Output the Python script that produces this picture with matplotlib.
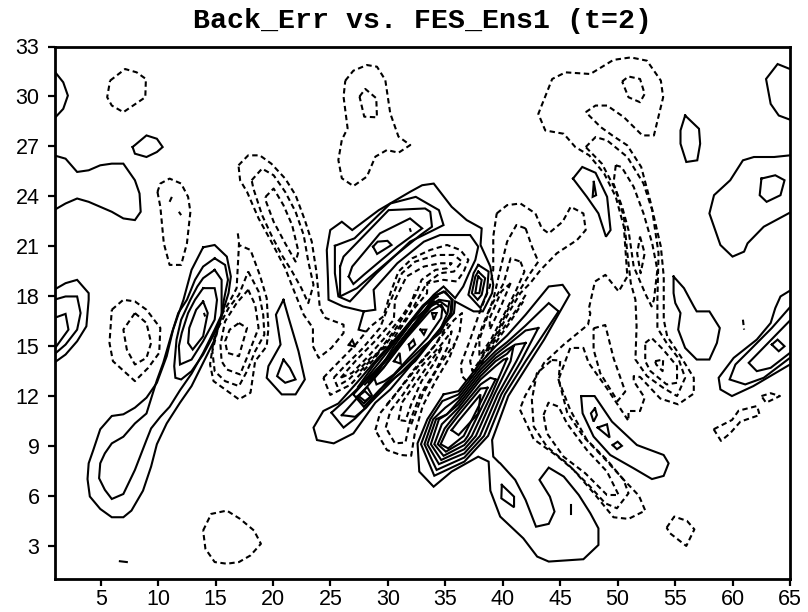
import matplotlib
matplotlib.use("Agg")
import matplotlib.pyplot as plt
import numpy as np

TITLE = "Back_Err vs. FES_Ens1 (t=2)"
X_TICKS = [5, 10, 15, 20, 25, 30, 35, 40, 45, 50, 55, 60, 65]
Y_TICKS = [3, 6, 9, 12, 15, 18, 21, 24, 27, 30, 33]

# ---- contour lines: (x, y) grid coordinates ----
# solid, left half
s_edge_top = [(1,31.5),(1.8,30.8),(2.2,30),(1.8,29.2),(1,28.6)]
s_small27 = [(7.8,26.9),(9,27.6),(9.9,27.4),(10.4,26.9),(9.9,26.6),(9,26.3),(8,26.5),(7.8,26.9)]
s_left_blob = [(1,26.4),(2,26.2),(3,25.4),(4,25.5),(5,25.8),(6,25.9),(7,25.9),(8,24.9),(8.4,24.1),(8.5,23),(8,22.5),(7,22.6),(6,23),(5,23.3),(4,23.6),(3,23.8),(2,23.5),(1,23.1)]
s_edge1 = [(1,18.3),(2,18.7),(3,18.9),(4,18.1),(4,17.7),(3.8,16.1),(3,15.2),(2,14.4),(1,13.9)]
s_edge2 = [(1,17.7),(2,17.9),(3,17.9),(3.3,16.9),(3,15.9),(2,15),(1,14.4)]
s_edge3 = [(1,16.6),(2,16.85),(2.25,15.9),(1,14.7)]
s_tiny7 = [(6.7,1.95),(7.3,1.9)]
s_arm_outer = [(13.9,20.86),(14.9,21),(15.95,20.3),(16.3,19.1),(16.1,18.1),(15.7,17.2),(14.9,15.3),(13.9,13.9),(12.9,12.5),(11.9,11.5),(10.75,10.25),(9.9,9),(9.4,7.65),(8.7,6.2),(7.7,5),(7,4.6),(6,4.6),(5,5.1),(4.1,5.85),(3.9,6.9),(4,7.85),(4.4,8.65),(5,9.9),(6,10.7),(7,10.8),(8,11.2),(9,11.8),(9.9,12.7),(10.75,14.3),(11.3,15.9),(12.2,17.7),(12.9,19.5),(13.9,20.86)]
s_arm_second = [(14.9,20.2),(15.8,19.8),(16.05,18.9),(15.7,17.7),(15.5,16.8),(14.9,15.9),(13.9,14.5),(12.9,13.25),(11.9,12.25),(11,11.25),(10.2,10.65),(9.4,9.95),(9,9.25),(8,7.45),(7,6),(6,5.7),(5.4,6.25),(4.9,6.95),(5,7.85),(5.4,8.45),(6,9.05),(7,9.45),(8,10.25),(9,10.85),(9.9,12.85),(10.45,13.9),(11.2,15.7),(11.75,16.9),(12.5,17.7),(13.2,18.9),(13.9,19.7),(14.9,20.2)]
s_arm_a = [(14.9,19.5),(15.5,18.9),(15.5,17.7),(15.5,16.7),(14.9,15.7),(13.9,14.4),(12.9,13.4),(12,12.9),(11.5,13),(11.4,13.7),(11.6,15.3),(12,16.5),(12.8,17.7),(13.4,18.5),(13.9,19),(14.9,19.5)]
s_arm_b = [(13.9,18.4),(14.9,18.4),(15.1,17.7),(14.9,16.5),(13.9,15.2),(12.9,14.1),(11.9,13.8),(11.8,14.9),(12.05,15.7),(12.6,16.9),(13.2,17.7),(13.9,18.4)]
s_arm_c = [(13.9,17.6),(14.3,16.9),(13.9,15.5),(13,14.7),(12.6,15.1),(12.7,16),(13.3,17.1),(13.9,17.6)]
s_dot_14 = [(14,16.85),(14.05,16.75)]
s_21_outer = [(20.85,17.7),(20.2,16.8),(20.6,15),(19.55,13.7),(19.4,13),(20.7,12),(21.9,12),(22.7,12.9),(22.15,14.6),(21.3,16.6),(20.85,17.7)]
s_21_inner = [(20.85,14.1),(20.3,13.1),(21,12.7),(21.9,12.9),(21.4,13.6),(20.85,14.1)]
s_tri_26 = [(26.5,14.98),(26.8,15.28),(27.06,14.87),(26.5,14.98)]

# solid, centre-top blob and centre ridge
s_main = [(27.9,15.8),(27.35,15.9),(27.8,17),(26,17.3),(24.75,17.7),(24.7,19),(24.6,20.7),(24.9,21.9),(25.9,22.4),(26.8,21.9),(29.1,23.1),(31.8,24.2),(32.85,24.6),(33.85,24.7),(35.4,23.3),(36.7,22.5),(38,22),(37.9,21),(38.75,19.7),(39,18.6),(38.9,18.1),(38.1,17),(37.3,17),(35.7,17.6),(35.6,16.9),(33.85,15.5),(31.8,13.7),(30.1,12.3),(28.8,11.5),(26.9,9.65),(25.2,9.05),(23.75,9.25),(23.45,10),(24.3,11),(25.6,11.45),(27.2,12.7),(28.9,14.1),(31,15.7),(32.7,17.1),(33.85,18),(34.7,18.5),(35.7,17.8),(36.4,18.5),(36.9,19.3),(37.45,20.1),(37.7,20.9),(37,21.6),(34.4,21.6),(33,21.2),(30.7,19.9),(28.65,18.3),(28.8,17.1),(27.8,17)]
s_e2 = [(25.3,20.95),(27,21.4),(30.1,23.5),(32.3,23.9),(34.3,23.1),(34.7,22.2),(33.55,21.8),(31.8,21.2),(28.9,19.3),(26.6,17.6),(25.6,17.9),(25.3,19.3),(25.3,20.95)]
s_e3 = [(25.75,19.7),(26.05,20.3),(29.95,23.1),(33.1,23.2),(33.55,23),(33.7,22.1),(32.7,21.6),(30.4,20.3),(27.2,18.4),(25.75,17.9),(25.75,19.7)]
s_e4 = [(26.5,19.1),(26.8,19.7),(29.2,21.7),(31.8,22.6),(32.85,22),(30.7,20.9),(27.8,19.2),(26.9,18.65),(26.5,19.1)]
s_e5 = [(28.6,20.9),(29,21.2),(29.85,21.25),(30.2,21),(28.95,20.46),(28.6,20.9)]
s_e_dot = [(31.8,21.95),(31.85,21.85)]
s_g1 = [(37.7,19.8),(38.6,19.4),(38.45,18.1),(37.9,17.2),(36.85,18),(37.3,19.3),(37.7,19.8)]
s_g2 = [(37.7,19.4),(38.3,19),(38,18),(37.65,17.7),(37.15,18.1),(37.45,19.1),(37.7,19.4)]
s_g3 = [(37.7,19.1),(38,18.9),(37.8,18.1),(37.45,18.1),(37.6,18.8),(37.7,19.1)]
s_r2 = [(25,10.9),(26.6,11.9),(28.65,13.3),(30.7,14.9),(32.7,16.7),(33.9,17.9),(34.7,18.2),(35.5,17.7),(35.4,16.9),(33.6,15.2),(32.25,14),(30.5,13),(28.8,11.8),(27.05,10.55),(26.05,10),(25,10.9)]
s_r3 = [(25.9,10.75),(27.5,12),(29.5,13.6),(31.5,15.5),(33.4,17.3),(34.1,18),(34.85,18.2),(35.4,17.7),(35.3,16.9),(34.4,15.7),(33,14.9),(31.5,13.9),(29.6,12.6),(28,11.2),(27.05,10.65),(25.9,10.75)]
s_r4 = [(26.9,12),(28.2,13),(30.4,14.5),(32.1,16),(33.85,17.5),(34.3,17.7),(35.2,17.6),(35.05,16.9),(34.4,15.9),(32.7,14.5),(31,13.3),(29.2,12.3),(27.8,11.25),(26.9,12)]
s_u1 = [(27.6,12.6),(29.1,13.9),(31.1,15.7),(33.1,17.4),(34.2,17.9)]
s_u2 = [(27.9,12.6),(29.3,13.7),(31.3,15.5),(33.3,17.2),(34.4,17.6),(35,17.3)]
s_u3 = [(28.2,12.7),(29.5,13.6),(31.5,15.4),(33.5,17),(34.5,17.4),(34.9,16.9)]
s_u4 = [(27.3,12.45),(28.7,13.8),(30.8,15.5),(32.9,17.35),(34,18)]
s_u5 = [(28.4,12.95),(29.8,14.1),(31.7,15.85),(33.6,17.5)]
s_r5 = [(28.7,13),(30.4,14.9),(32,16.4),(33.9,17.6),(34.6,17.2),(34.5,16.6),(33.3,15.4),(31.7,14.2),(30.4,13.2),(29.6,12.8),(28.9,12.6),(28.7,13)]
s_t1a = [(27.2,11.85),(28.1,12.45),(28.5,11.95),(27.8,11.45),(27.2,11.85)]
s_t1 = [(27.35,11.9),(27.9,12.2),(28.4,11.85),(27.9,11.6),(27.35,11.9)]
s_t2 = [(30.4,14),(31,13.85),(30.9,14.5),(30.4,14)]
s_t3 = [(31.7,15),(32.1,15.3),(32.25,15),(31.8,14.7),(31.7,15)]
s_t4 = [(32.7,15.9),(33.2,15.9),(33,15.6),(32.7,15.9)]
s_t5 = [(33.7,16.9),(34.1,16.9),(33.85,16.5),(33.7,16.9)]

# solid, lower ridge and bottom blob
s_l1 = [(34.7,12),(36,12.2),(37.9,13.9),(39.2,14.9),(40.2,15.55),(41.8,16.8),(43.8,18.5),(45,18.6),(45.6,18),(43.4,15.3),(42.2,14),(40.3,11.9),(38.9,9.25),(39,8.25),(39.5,7.9),(39.6,7.85),(40.9,6.85),(41.8,5.64),(42.7,4.03),(43.8,4.2),(44.3,4.94),(43.9,5.84),(43,6.85),(43.8,7.59),(45.1,7.05),(46.4,5.94),(47.4,4.84),(48.1,3.93),(48.1,2.93),(46.8,2.07),(43.8,1.93),(42.8,2.23),(41.6,3.33),(39.6,4.64),(38.75,6.2),(38.6,7.95),(37.7,8.25),(35.4,7.35),(33.84,6.44),(32.6,7.35),(32.45,9.05),(33.3,10.5),(34.7,12)]
s_l2 = [(44.65,17),(43.8,17.5),(41.8,16.15),(40.2,15.15),(39.2,14.6),(37.9,13.7),(36,12),(34.6,11.6),(33.55,10.5),(32.75,9),(33.9,7.1),(36.5,7.95),(38.55,9.5),(40,12),(41.8,14),(44.65,17)]
s_l3 = [(42.9,16),(41.8,15.85),(40.2,14.95),(39.2,14.4),(37.9,13.5),(36,11.8),(34.85,11.2),(33.8,10.5),(33.05,9),(34.1,7.45),(36.5,8.2),(38.2,9.5),(39.7,12),(41.4,14),(42.9,16)]
s_l4 = [(41.8,15.1),(40.9,15),(40.2,14.7),(39.2,14.2),(37.9,13.3),(36,11.6),(35,10.8),(34.05,10.5),(33.3,9),(34.3,7.8),(36.5,8.45),(37.85,9.5),(39.4,12),(41,14),(41.8,15.1)]
s_l5 = [(40.75,14.9),(40.2,14.45),(39.2,14),(37.9,13.1),(36,11.4),(34.9,10.75),(34.3,10.5),(33.6,9),(34.5,8.05),(36.5,8.7),(37.5,9.5),(39.1,12),(40.5,14),(40.75,14.9)]
s_l6 = [(40.2,14.15),(39.9,14.1),(39.2,13.7),(37.9,12.9),(36,11.2),(34.55,10.2),(33.9,9),(34.7,8.3),(36.5,8.95),(37.15,9.5),(38.85,12),(40.1,14),(40.2,14.15)]
s_l7 = [(39.2,12.9),(38.75,13),(37.9,12.6),(36,11),(34.8,9.95),(34.2,9),(34.9,8.55),(36.5,9.2),(36.8,9.5),(38.55,12),(39.2,12.9)]
s_l7b = [(38.5,12.4),(37.9,12.35),(36,10.75),(35.05,9.9),(34.45,9),(35.1,8.75),(36.45,9.5),(38.25,12),(38.5,12.4)]
s_l8 = [(35.4,9.85),(36,9.55),(37.7,10.85),(37.9,12),(36,10.4),(35.4,9.85)]
s_b_in = [(39.74,6.55),(40.8,5.84),(40.8,5.2),(39.7,5.74),(39.74,6.55)]
s_b_tick = [(45.75,5.34),(45.75,4.8)]

# solid, right half
s_t_48 = [(45.9,25),(46.7,25.7),(47.85,25.35),(48.85,23.9),(49.15,21.9),(48.75,21.5),(48.1,22.9),(47.1,23.9),(45.9,25)]
s_t_48i = [(47.7,24.8),(47.9,24),(47.6,23.9),(47.7,24.8)]
s_56 = [(55.6,28.8),(56.8,28),(56.9,27.1),(56.65,26.1),(55.7,26),(55.2,27.1),(55.2,27.9),(55.6,28.8)]
s_tr = [(64.67,31.6),(63.6,31.9),(62.6,31),(63,29.5),(63.7,28.8),(64.67,28.55)]
s_w = [(64.67,26.4),(63.3,26.3),(61.55,26.3),(60.6,26.1),(59.5,24.9),(58.1,24),(57.7,22.9),(58.65,21),(59.7,20.3),(60.7,20.6),(61,21.1),(62.4,22.1),(64.67,22.95)]
s_w_in = [(62.2,25),(63.4,25.2),(64.2,24.9),(63.85,24),(62.65,23.6),(62.05,24),(62.2,25)]
s_56b = [(54.6,19.1),(55.5,18.4),(56.35,17.3),(56.6,17),(57.7,17),(58.6,16),(58.35,15.1),(57.7,14.1),(56.6,14.1),(55.6,14.8),(55,15.9),(55.2,16.9),(54.75,17.5),(54.6,18.1),(54.6,19.1)]
s_y1 = [(64.67,18.25),(63.85,17.9),(63.4,17.2),(63,16.3),(61.8,15.3),(59.8,14.2),(58.5,13),(58.65,12.3),(59.65,11.9),(61.5,12.5),(64.67,13.8)]
s_y2 = [(64.67,17.25),(63.1,16),(61.25,14.7),(59.95,13.8),(59.45,12.9),(60.8,12.6),(62.4,13),(64.67,14.2)]
s_y3 = [(64.67,16.45),(61.1,13.9),(61.8,13.4),(63,13.6),(64.67,14.5)]
s_y_d = [(63.1,15),(63.6,15.3),(64.2,14.9),(63.7,14.6),(63.1,15)]
s_49 = [(46.6,11.9),(47.77,11.9),(49.27,10.36),(51.43,8.95),(53.74,8.35),(54.17,7.85),(53.74,7.09),(52.73,6.9),(51.14,7.55),(49.12,8.35),(47.68,9.46),(46.73,10.86),(46.6,11.9)]
s_49a = [(47.8,11.16),(47.97,10.76),(47.68,10.36),(47.45,10.86),(47.8,11.16)]
s_49b = [(48.03,10),(48.84,10.2),(49.07,9.4),(48.03,10)]
s_49c = [(49.33,8.95),(49.76,9.15),(50.13,8.9),(49.7,8.7),(49.33,8.95)]

# dashed, left half
d_top_left = [(5.85,30.9),(7.15,31.6),(8.15,31.4),(8.95,31),(8.9,29.9),(7,29),(6,29.4),(5.6,29.9),(5.85,30.9)]
d_11 = [(9.95,24.2),(10.2,23.3),(10.5,21.1),(11,19.8),(12,19.8),(12.5,21.1),(12.8,23),(12.6,23.9),(12,24.7),(11,25),(10.2,24.7),(9.95,24.2)]
d_11a = [(11,23.6),(11.2,23.9)]
d_11b = [(11.8,23),(12,22.8)]
d_7o = [(6,17.1),(7,17.7),(8,17.6),(9,17.1),(10.2,16),(10.1,14.5),(9.15,13.6),(8,12.8),(6.1,14),(5.8,15.1),(6,17.1)]
d_7i = [(8,16.9),(9,16.3),(9.4,15.1),(9,14.2),(8,13.8),(7.3,14.7),(7,15.9),(8,16.9)]
d_16 = [(13.9,3.8),(14.6,4.8),(15.95,5),(17.1,4.5),(18.3,3.8),(18.9,3),(18,2.3),(17,1.9),(15.95,1.8),(14.9,1.9),(14.1,2.7),(13.9,3.8)]
d_d1 = [(16.96,25.8),(17.8,26.4),(18.8,26.4),(19.8,25.9),(21,25),(21.9,24),(22.7,22.5),(23.3,21.2),(23.7,19.4),(24,17.2),(24.5,16.6),(26.05,16.2),(26.05,15.7),(25,14.8),(23.9,14.2),(23.4,14.9),(23.4,16),(22.6,16.8),(21.9,18),(21,19.6),(19.8,21.2),(18.7,22.6),(17.7,24.2),(17.1,24.9),(16.96,25.8)]
d_d2 = [(18.1,24.9),(19,25.6),(20,25.2),(21,24.2),(21.9,23),(22.6,21.6),(23,20),(23.45,18.6),(23,17.5),(22.4,18.4),(21.6,19.4),(20.7,20.4),(19.8,21.6),(19,22.8),(18.25,24.4),(18.1,24.9)]
d_d3 = [(19.3,23.9),(20,24.4),(20.85,23.4),(21.6,22.2),(22.15,20.6),(21.9,20),(21,21.1),(20,22.4),(19.3,23.7),(19.3,23.9)]
d_d4 = [(16.9,21.7),(17,21.2),(17,21),(18,20.7),(18.8,19.2),(19.4,17.8),(19.55,16),(19.4,14.9),(18.4,14),(18,12.1),(17,11.7),(16,12.2),(14.8,12.8),(14.5,13.8),(14.8,15.2),(15.5,16.8),(16.2,17.6),(16.8,18.4),(17,21)]
d_d5 = [(17.8,19.4),(18.7,18.2),(19.1,16.8),(19.2,15.6),(18.4,14.6),(17.7,13.4),(17,12.5),(15.8,12.8),(14.9,13.4),(14.7,14.6),(15.2,16),(16.1,17.2),(17,18),(17.8,19.4)]
d_d6 = [(17.8,18.3),(18.4,17.4),(18.7,16),(17.8,14.4),(17.1,13.2),(15.95,13.5),(15.5,14),(15.4,15),(15.8,16.4),(16.8,17.5),(17.8,18.3)]
d_d7 = [(17,16.3),(17.7,16),(17.2,14.8),(17,14.3),(16,14.5),(15.8,15.2),(16.2,15.9),(17,16.3)]
d_v_o = [(26.2,30.9),(26.9,31.5),(28.07,31.84),(28.94,31.74),(29.66,30.94),(30.09,28.93),(30.8,27.53),(31.82,27.02),(30.81,26.56),(29.8,26.72),(28.8,26.32),(28.07,25.12),(26.9,24.55),(25.9,25.02),(25.6,26.12),(25.9,27.33),(26.4,28.03),(26.05,29.93),(26.2,30.9)]
d_v_i = [(27.43,29.94),(27.93,30.4),(28.88,29.84),(28.94,28.69),(27.84,28.73),(27.43,29.94)]

# dashed, around the centre ridge
d_a = [(24.3,13),(25.2,13.65),(27.06,14.97),(28.36,16.08),(29.5,16.7),(30.1,18.1),(30.8,19.4),(32,20.2),(33.55,20.7),(35,21),(36.15,20.7),(36.85,20.1),(36.45,19.4),(35.85,18.8),(34.7,18.9),(33.3,18.7),(33.27,18.09),(31.8,16.88),(30.1,15.38),(28.5,13.97),(26.63,12.57),(24.9,11.97),(24.3,13)]
d_b = [(25.2,13),(26,13.6),(27.6,14.7),(29.2,16),(30.1,17.6),(31.1,19.3),(32.25,20),(34.1,20.4),(35.6,20.4),(36.3,20),(35.6,19.4),(34.4,19.3),(33.25,18.7),(32.6,17.9),(31.5,16.5),(30,15),(28.4,14.2),(26.5,12.9),(25.5,12.5),(25.2,13)]
d_c = [(25.8,13),(27.2,14.1),(28.9,15.3),(30.4,16.5),(30.5,17.7),(31.5,19.1),(33,19.7),(34.4,19.9),(35.4,19.9),(35,19.6),(34,19.5),(32.8,18.9),(32.3,18),(31.1,16.7),(29.6,15.4),(28.2,14.3),(26.8,13.3),(25.8,13)]
d_e = [(27.5,13.4),(29,14.5),(30.5,15.9),(31.8,17.3),(32.3,18.3)]
d_b1 = [(28.8,9.85),(29.2,10.86),(30.4,11.86),(32.1,13.47),(33.85,14.88),(35.6,16.48),(36.3,16.9),(36.1,15.8),(35.2,14.2),(34,12.8),(32.9,11.3),(32.2,9.6),(31.9,8.3),(31,8.35),(29.8,8.65),(28.8,9.85)]
d_b2 = [(29.7,10),(30.1,11),(31.2,12),(32.8,13.7),(34.5,15),(35.4,15.8),(35.1,14.9),(33.9,13.3),(32.7,12),(31.8,10.4),(31.4,9.1),(30.5,9.05),(29.7,10)]
d_b3 = [(30.8,10.46),(31.1,11.5),(32.5,12.9),(33.9,14.3),(34.6,14.9),(33.9,13.9),(32.8,12.8),(31.9,11.4),(31.4,10.4),(30.8,10.46)]
d_f = [(29.8,11.4),(31,12.4),(32.5,13.7),(34,15),(35.1,16.3)]
d_h = [(31.9,10.2),(32.9,12),(34.2,13.6),(35.7,15.1)]
d_x1 = [(39.3,22.9),(40.2,23.4),(41.35,23.5),(42.65,22.9),(43.2,22),(43.8,21.7),(45,22.4),(45.7,23.3),(46.8,22.9),(47,21.9),(46.25,21.3),(44.5,20.5),(43.1,19.5),(42.2,18.7),(41.35,18.1),(40.4,17),(39.5,15.8),(38.2,14.5),(37.2,13.1),(36.7,12.8),(36.3,13.1),(36.2,13.8),(37,15.3),(37.8,16.9),(38.7,18.5),(39,19.5),(39,21.5),(39.3,22.9)]
d_x2 = [(41.8,22),(42.35,20.9),(42.9,20),(42.2,19.3),(41.4,18.4),(40.4,17.3),(39.3,15.7),(38.1,14.3),(37.2,13.4),(37,14),(38,16),(39,17.7),(39.6,19.5),(40.2,21.2),(41,22.2),(41.8,22)]
d_x3 = [(41.35,20),(41.7,19.4),(41,18.3),(40,16.9),(38.8,15.3),(37.8,14.3),(37.8,15.3),(38.8,17.3),(39.9,18.7),(40.5,20.2),(41.35,20)]
d_x4 = [(40.5,18.7),(39.6,17.2),(38.7,15.9),(38.7,16.6),(39.7,18.2),(40.5,18.7)]
d_x5 = [(38.5,14.6),(39.7,15.8),(41,17.1),(41.9,18.1)]
d_x6 = [(37.9,13.8),(39.2,15.1),(40.5,16.4),(41.6,17.6)]

# dashed, right half
d_j = [(47,29),(47.85,29.4),(48.85,29.4),(50.3,28.7),(51.9,27.6),(52.9,27.6),(53.7,29.9),(53.5,30.9),(52.3,32.1),(50.9,32.3),(49.4,32.15),(47.4,31.3),(45.25,31.4),(44.1,31),(42.9,28.9),(43.5,27.9),(45.1,27.7),(46.1,26.9),(47.3,26.4),(48.6,25.3),(49.6,23.9),(50.3,22.1),(50.6,19.1),(49.85,18.2),(48.7,19.2),(47.8,18.8),(47.25,17.1),(47.4,16.9),(47.2,16.2),(45.1,15),(43.4,13.9),(41.75,11.9),(41.3,11.1),(42.5,9.3),(44.5,8.3),(45.95,7.45),(47.7,6.05),(49.4,4.6),(50.7,4.5),(52.15,5),(51.6,5.9),(50.3,6.85),(48.6,8.15),(46.8,9.45),(45.4,10.9),(44.65,12.9),(45.66,14.8),(46.8,14.8),(47.25,13.9),(48.8,12.4),(50.7,10.4),(50.7,11.0),(51.7,11),(52.1,11.8),(51.15,12.8),(51.15,13.1),(51.7,13.05),(53.45,11.75),(55,11.4),(56.35,12.05),(56.35,13),(55.2,14.3),(54.05,15.5),(53.75,16.5),(53.75,17.7),(53.75,19.1),(53.5,20.9),(52.6,23.6),(51.8,25.7),(50.6,27),(49.3,27.6),(48.3,28.1),(47,29)]
d_k = [(47.68,15.98),(48.69,16.18),(49.41,14.18),(50.42,12.17),(49.76,11.6),(48.26,13.27),(47.68,14.7),(47.68,15.98)]
d_m = [(44.07,14.07),(44.8,14.04),(44.65,12.87),(45.66,11.06),(47.1,9.26),(48.84,8.05),(50.28,6.85),(50.7,6.04),(49.7,5.14),(48.69,5.44),(47.39,6.44),(45.37,7.85),(43.64,8.85),(42.5,10.06),(42.34,11.67),(42.77,13.27),(44.07,14.07)]
d_n = [(43.35,10.76),(43.78,11.5),(44.65,11.26),(45.37,10.26),(47.1,8.65),(48.84,7.35),(49.85,5.94),(48.84,5.94),(46.96,7.25),(45.08,8.25),(43.64,9.66),(43.35,10.76)]
d_p = [(47,26.9),(47.85,27.5),(48.85,27.3),(50.6,26.3),(52,24.7),(52.75,23.1),(53.3,20.5),(53.2,17.7),(53.2,16),(54,15.1),(55,14.2),(55.6,13),(54.9,11.9),(53.7,12.4),(52.3,13.1),(51.3,14.1),(51.4,16.1),(51.3,17.7),(50.9,18.7),(50.6,20.5),(50.3,22.7),(49.6,24.3),(48.4,25.9),(47,26.9)]
d_q = [(52.15,15.1),(52.7,15.4),(53.7,14.7),(54.9,13.7),(54.9,12.7),(54,12.6),(52.6,13.4),(52.15,14),(52.15,15.1)]
d_r = [(53,14),(53.7,14.1),(53.65,13.4),(53.1,13.8),(53,14)]
d_s = [(49.6,25.8),(49.4,24.7),(50.15,23.3),(50.7,21.9),(51.15,19.7),(52.2,18),(52.7,17.3),(52.9,17.7),(53.2,19.5),(52.75,21.1),(52,22.9),(51.15,24.5),(50.1,25.7),(49.6,25.8)]
d_s2 = [(51.7,21.5),(52.1,20.5),(51.75,19.3),(51.45,20.5),(51.7,21.5)]
d_top_r = [(50.15,30.85),(50.7,31.15),(51.7,31),(52.1,30.1),(51.7,29.6),(50.7,29.9),(50.15,30.85)]
d_60 = [(60.6,16.5),(60.7,15.9)]
d_58 = [(58.07,9.9),(59.66,10.46),(60.23,11.02),(61.82,11.3),(62.05,10.76),(60.38,10.36),(59.5,9.66),(58.7,9.2),(58.07,9.9)]
d_62 = [(62.2,11.9),(63,12.07),(63.8,11.9),(62.6,11.5),(62.2,11.9)]
d_54 = [(54,3.97),(54.66,4.64),(55.76,4.38),(56.4,3.87),(55.7,2.87),(54.3,3.63),(54,3.97)]

SOLID = [s_edge_top, s_small27, s_left_blob, s_edge1, s_edge2, s_edge3, s_tiny7, s_arm_outer,
         s_arm_second, s_arm_a, s_arm_b, s_arm_c, s_dot_14, s_21_outer, s_21_inner, s_tri_26,
         s_main, s_e2, s_e3, s_e4, s_e5, s_e_dot, s_g1, s_g2, s_g3, s_r2, s_r3, s_r4, s_u1, s_u2,
         s_u3, s_u4, s_u5, s_r5, s_t1a, s_t1, s_t2, s_t3, s_t4, s_t5, s_l1, s_l2, s_l3, s_l4, s_l5,
         s_l6, s_l7, s_l7b, s_l8, s_b_in, s_b_tick, s_t_48, s_t_48i, s_56, s_tr, s_w, s_w_in, s_56b,
         s_y1, s_y2, s_y3, s_y_d, s_49, s_49a, s_49b, s_49c]
DASHED = [d_top_left, d_11, d_11a, d_11b, d_7o, d_7i, d_16, d_d1, d_d2, d_d3, d_d4, d_d5, d_d6,
          d_d7, d_v_o, d_v_i, d_a, d_b, d_c, d_e, d_b1, d_b2, d_b3, d_f, d_h, d_x1, d_x2, d_x3, d_x4,
          d_x5, d_x6, d_j, d_k, d_m, d_n, d_p, d_q, d_r, d_s, d_s2, d_top_r, d_60, d_58, d_62, d_54]


def to_grid(points):
    """Tracing calibration: the traces used a slightly different pixel ruler than the axis."""
    p = np.array(points, float)
    x = (54 + (p[:, 0] - 1) * 11.55 - 54.7) / 11.48 + 1
    y = (579 - (577 - (p[:, 1] - 1) * 16.6)) / 16.64 + 1
    return x, y


fig = plt.figure(figsize=(8.08, 6.12), dpi=100)
ax = fig.add_axes([54.7 / 808, 1 - 579 / 612, (790 - 54.7) / 808, (579 - 46.5) / 612])
ax.set_xlim(1, 65)
ax.set_ylim(1, 33)
for line in SOLID:
    x, y = to_grid(line)
    ax.plot(x, y, color="black", lw=1.5, solid_joinstyle="miter", zorder=2)
for line in DASHED:
    x, y = to_grid(line)
    ax.plot(x, y, color="black", lw=1.5, dashes=(2.6, 1.7), dash_capstyle="butt", zorder=2)

ax.set_xticks(X_TICKS)
ax.set_yticks(Y_TICKS)
ax.tick_params(axis="x", top=False, direction="out", length=5, width=1.6, labelsize=15.5, pad=2)
ax.tick_params(axis="y", right=False, direction="out", length=5, width=1.6, labelsize=15.5, pad=6)
for lab in ax.get_xticklabels() + ax.get_yticklabels():
    lab.set_family("Liberation Sans")
for sp in ax.spines.values():
    sp.set_linewidth(2.0)
ax.set_title(TITLE, family="Liberation Mono", weight="bold", fontsize=20.3, pad=13)
fig.savefig("out.png", dpi=100)
